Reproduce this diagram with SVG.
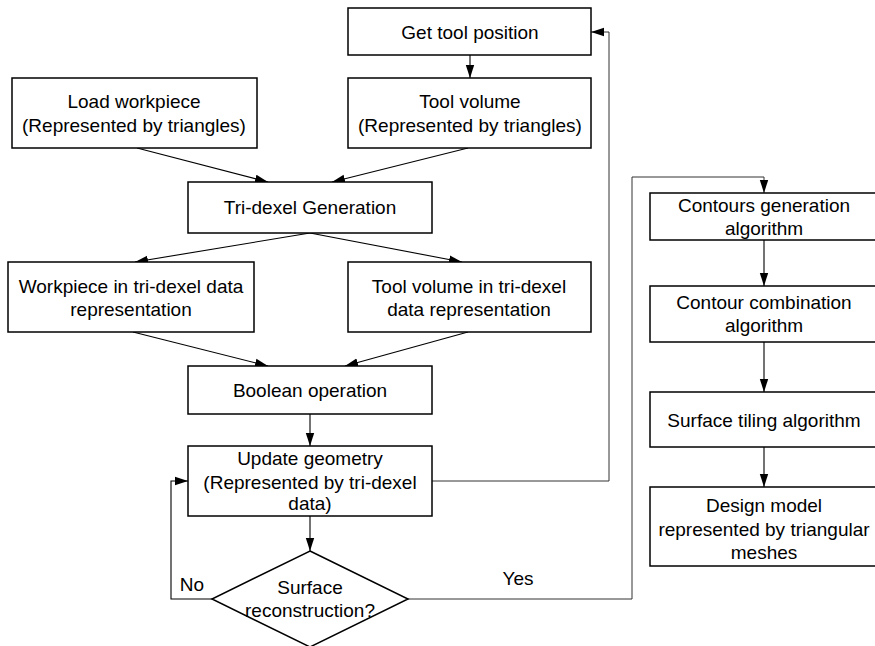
<svg xmlns="http://www.w3.org/2000/svg" width="875" height="646" viewBox="0 0 875 646">
  <style>
    .box { fill: #fff; stroke: #000; stroke-width: 1.5; }
    .lbl { font-family: "Liberation Sans", Arial, sans-serif; font-size: 19px; fill: #000; text-anchor: middle; }
    .edge { fill: none; stroke: #000; stroke-width: 1.1; }
    .loop { fill: none; stroke: #333; stroke-width: 1; }
  </style>
  <defs>
    <marker id="arr" viewBox="0 0 13 10" refX="13" refY="5" markerWidth="13" markerHeight="10" markerUnits="userSpaceOnUse" orient="auto">
      <path d="M0,0.8 L13,5 L0,9.2 Z" fill="#000"/>
    </marker>
  </defs>
  <rect width="875" height="646" fill="#fff"/>

  <g id="connectors">
    <line class="edge" x1="470" y1="55" x2="470" y2="78" marker-end="url(#arr)"/>
    <line class="edge" x1="137" y1="148" x2="268" y2="182" marker-end="url(#arr)"/>
    <line class="edge" x1="468" y1="148" x2="332" y2="182" marker-end="url(#arr)"/>
    <line class="edge" x1="310" y1="233" x2="135" y2="262" marker-end="url(#arr)"/>
    <line class="edge" x1="310" y1="233" x2="462" y2="262" marker-end="url(#arr)"/>
    <line class="edge" x1="133" y1="332" x2="268" y2="366" marker-end="url(#arr)"/>
    <line class="edge" x1="468" y1="332" x2="345" y2="366" marker-end="url(#arr)"/>
    <line class="edge" x1="310" y1="414" x2="310" y2="446" marker-end="url(#arr)"/>
    <line class="edge" x1="310" y1="516" x2="310" y2="551" marker-end="url(#arr)"/>
    <polyline class="loop" points="432,481 609,481 609,32 591,32" marker-end="url(#arr)"/>
    <polyline class="edge" points="212,599 171,599 171,481 188,481" stroke-width="1.4" marker-end="url(#arr)"/>
    <polyline class="loop" points="408,599 632,599 632,177 764,177 764,193" marker-end="url(#arr)"/>
    <line class="edge" x1="764" y1="240" x2="764" y2="286" marker-end="url(#arr)"/>
    <line class="edge" x1="764" y1="342" x2="764" y2="392" marker-end="url(#arr)"/>
    <line class="edge" x1="764" y1="447" x2="764" y2="487" marker-end="url(#arr)"/>
    <text class="lbl" x="192" y="591">No</text>
    <text class="lbl" x="518" y="585">Yes</text>
  </g>

  <g id="get-tool-position">
    <rect class="box" x="348" y="8" width="243" height="47"/>
    <text class="lbl" x="470" y="39">Get tool position</text>
  </g>
  <g id="tool-volume">
    <rect class="box" x="348" y="78" width="243" height="70"/>
    <text class="lbl" x="470" y="108">Tool volume</text>
    <text class="lbl" x="470" y="132">(Represented by triangles)</text>
  </g>
  <g id="load-workpiece">
    <rect class="box" x="12" y="78" width="245" height="70"/>
    <text class="lbl" x="134" y="108">Load workpiece</text>
    <text class="lbl" x="134" y="132">(Represented by triangles)</text>
  </g>
  <g id="tri-dexel-generation">
    <rect class="box" x="188" y="182" width="244" height="51"/>
    <text class="lbl" x="310" y="214">Tri-dexel Generation</text>
  </g>
  <g id="workpiece-tri-dexel">
    <rect class="box" x="8" y="262" width="246" height="70"/>
    <text class="lbl" x="131" y="293">Workpiece in tri-dexel data</text>
    <text class="lbl" x="131" y="316">representation</text>
  </g>
  <g id="tool-volume-tri-dexel">
    <rect class="box" x="348" y="262" width="243" height="70"/>
    <text class="lbl" x="469" y="293">Tool volume in tri-dexel</text>
    <text class="lbl" x="469" y="316">data representation</text>
  </g>
  <g id="boolean-operation">
    <rect class="box" x="188" y="366" width="244" height="48"/>
    <text class="lbl" x="310" y="397">Boolean operation</text>
  </g>
  <g id="update-geometry">
    <rect class="box" x="188" y="446" width="244" height="70"/>
    <text class="lbl" x="310" y="465">Update geometry</text>
    <text class="lbl" x="310" y="489">(Represented by tri-dexel</text>
    <text class="lbl" x="310" y="510">data)</text>
  </g>
  <g id="surface-reconstruction">
    <polygon class="box" points="310,551 408,599 310,647 212,599"/>
    <text class="lbl" x="310" y="594">Surface</text>
    <text class="lbl" x="310" y="617">reconstruction?</text>
  </g>
  <g id="contours-generation">
    <rect class="box" x="650" y="193" width="230" height="47"/>
    <text class="lbl" x="764" y="212">Contours generation</text>
    <text class="lbl" x="764" y="235">algorithm</text>
  </g>
  <g id="contour-combination">
    <rect class="box" x="650" y="286" width="230" height="56"/>
    <text class="lbl" x="764" y="309">Contour combination</text>
    <text class="lbl" x="764" y="332">algorithm</text>
  </g>
  <g id="surface-tiling">
    <rect class="box" x="650" y="392" width="230" height="55"/>
    <text class="lbl" x="764" y="427">Surface tiling algorithm</text>
  </g>
  <g id="design-model">
    <rect class="box" x="650" y="487" width="230" height="79"/>
    <text class="lbl" x="764" y="512">Design model</text>
    <text class="lbl" x="764" y="536">represented by triangular</text>
    <text class="lbl" x="764" y="559">meshes</text>
  </g>
</svg>
